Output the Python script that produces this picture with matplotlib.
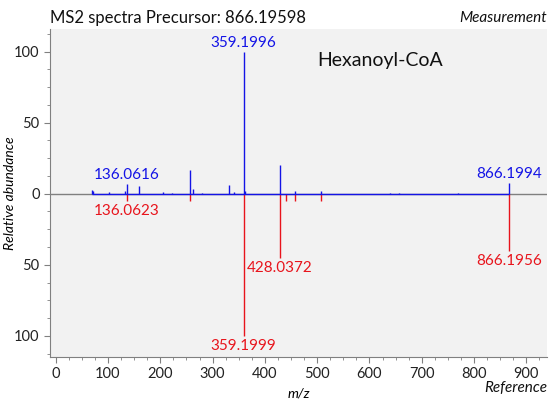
import matplotlib
matplotlib.use("Agg")
import matplotlib.pyplot as plt
from matplotlib.ticker import MultipleLocator, FuncFormatter

plt.rcParams["font.family"] = ["Lato", "DejaVu Sans"]

# measured spectrum (top, blue)
meas_mz = [70.1, 72.1, 101.0, 133.0, 136.0616, 160.0, 205.0, 222.0, 257.0, 262.0,
           280.0, 332.0, 341.5, 359.1996, 361.5, 428.0372, 458.0, 508.0, 640.0,
           657.0, 769.0, 866.1994]
meas_int = [2.5, 1.8, 1.0, 1.8, 7.0, 5.5, 1.5, 0.6, 16.5, 3.0,
            0.5, 6.3, 1.0, 100.0, 2.0, 20.5, 2.0, 2.0, 0.6,
            0.6, 0.8, 7.5]
meas_labels = {136.0616: "136.0616", 359.1996: "359.1996", 866.1994: "866.1994"}

# reference spectrum (bottom, red)
ref_mz = [136.0623, 257.0, 359.1999, 428.0372, 440.0, 458.0, 508.0, 866.1956]
ref_int = [5.0, 5.0, 100.0, 45.0, 5.0, 5.0, 5.0, 40.0]
ref_labels = {136.0623: "136.0623", 359.1999: "359.1999",
              428.0372: "428.0372", 866.1956: "866.1956"}

BLUE = "#1414e6"
RED = "#e8141c"
GREY = "#808080"

fig = plt.figure(figsize=(5.55, 4.03), dpi=100)
ax = fig.add_axes([0.090, 0.114, 0.896, 0.814])
ax.set_facecolor("#f2f2f2")

ax.axhline(0, color=GREY, linewidth=1.0, zorder=1)
ax.vlines(ref_mz, 0, [-v for v in ref_int], color=RED, linewidth=1.0, zorder=2)
ax.hlines(0, min(meas_mz), max(meas_mz), color=BLUE, linewidth=1.0, zorder=3)
ax.vlines(meas_mz, 0, meas_int, color=BLUE, linewidth=1.0, zorder=3)

for mz, v in zip(meas_mz, meas_int):
    if mz in meas_labels:
        ax.text(mz, v + 1.5, meas_labels[mz], color=BLUE, fontsize=11,
                ha="center", va="bottom")
for mz, v in zip(ref_mz, ref_int):
    if mz in ref_labels:
        ax.text(mz, -v - 2.5, ref_labels[mz], color=RED, fontsize=11,
                ha="center", va="top")

ax.text(0.538, 0.905, "Hexanoyl-CoA", transform=ax.transAxes, fontsize=14,
        ha="left", va="center", color="#111111")

ax.set_xlim(-11, 940)
ax.set_ylim(-115, 116)
ax.xaxis.set_major_locator(MultipleLocator(100))
ax.xaxis.set_minor_locator(MultipleLocator(25))
ax.yaxis.set_major_locator(MultipleLocator(50))
ax.yaxis.set_minor_locator(MultipleLocator(12.5))
ax.yaxis.set_major_formatter(FuncFormatter(lambda v, p: f"{abs(v):g}"))

for s in ("top", "right"):
    ax.spines[s].set_visible(False)
for s in ("left", "bottom"):
    ax.spines[s].set_color(GREY)
    ax.spines[s].set_linewidth(0.8)
ax.tick_params(which="major", length=4, color=GREY, labelsize=10.5, labelcolor="#222222")
ax.tick_params(which="minor", length=2.5, color=GREY)

ax.set_xlabel("m/z", fontstyle="italic", fontsize=10, labelpad=4)
ax.set_ylabel("Relative abundance", fontstyle="italic", fontsize=10)
ax.yaxis.set_label_coords(-0.068, 0.5)

fig.text(0.090, 0.955, "MS2 spectra Precursor: 866.19598", fontsize=12,
         ha="left", va="center", color="#111111")
fig.text(0.986, 0.955, "Measurement", fontsize=11, fontstyle="italic",
         ha="right", va="center", color="#111111")
fig.text(0.986, 0.020, "Reference", fontsize=11, fontstyle="italic",
         ha="right", va="bottom", color="#111111")

fig.savefig("out.png", dpi=100)
